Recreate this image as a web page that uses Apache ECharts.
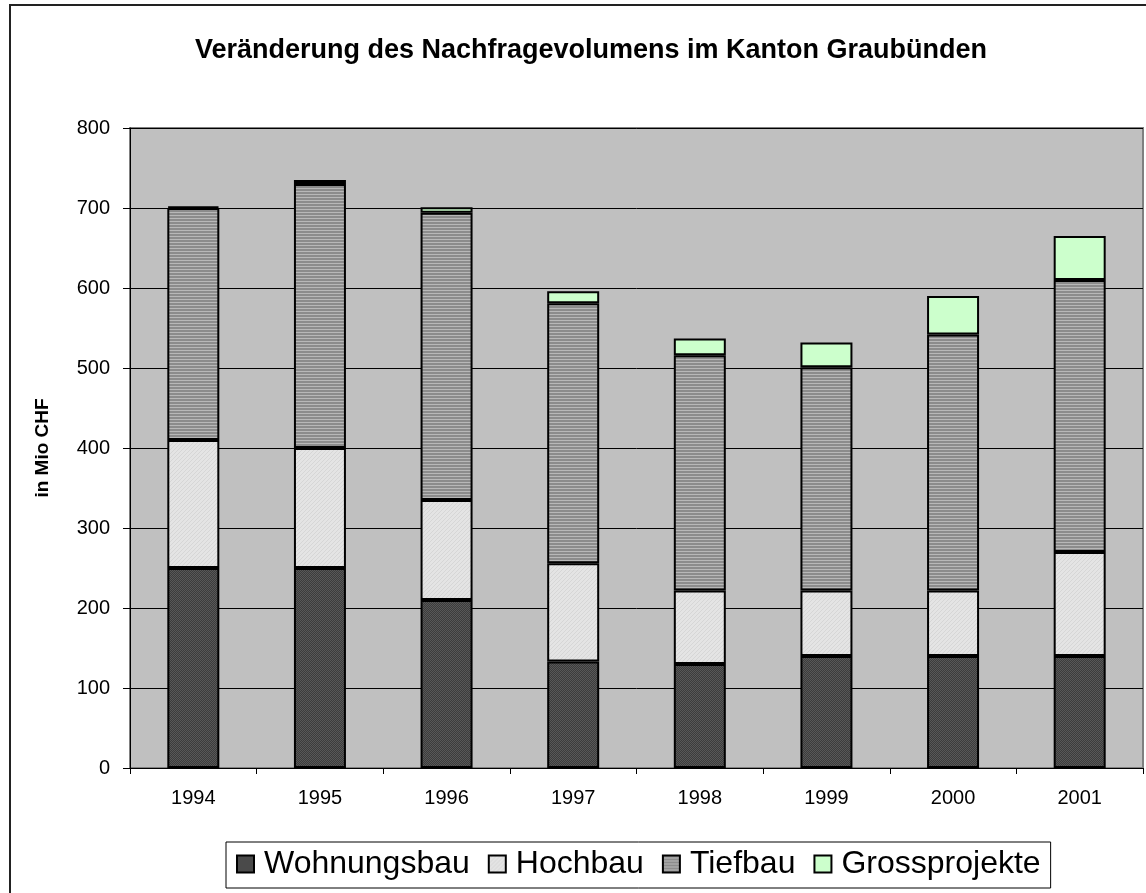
<!DOCTYPE html>
<html>
<head>
<meta charset="utf-8">
<script src="https://cdn.jsdelivr.net/npm/echarts@6/dist/echarts.min.js"></script>
<style>
  html, body { margin: 0; padding: 0; background: #fff; }
  #container { width: 1146px; height: 893px; }
</style>
</head>
<body>
<div id="container"></div>
<script>
var years = ['1994', '1995', '1996', '1997', '1998', '1999', '2000', '2001'];
var wohnungsbau = [250, 250, 210, 133, 130, 140, 140, 140];
var hochbau = [160, 150, 125, 123, 92, 82, 82, 130];
var tiefbau = [290, 330, 359, 325, 294, 279, 320, 340];
var grossprojekte = [2, 5, 7, 15, 21, 31, 48, 55];

function pattern(w, h, draw) {
    var c = document.createElement('canvas');
    c.width = w;
    c.height = h;
    draw(c.getContext('2d'));
    return { image: c, repeat: 'repeat' };
}

// hatch fills like the old office chart
var wohnFill = pattern(2, 2, function (ctx) {
    ctx.fillStyle = '#3c3c3c';
    ctx.fillRect(0, 0, 2, 2);
    ctx.fillStyle = '#585858';
    ctx.fillRect(0, 0, 1, 1);
    ctx.fillRect(1, 1, 1, 1);
});
var hochFill = pattern(4, 4, function (ctx) {
    ctx.fillStyle = '#e4e4e4';
    ctx.fillRect(0, 0, 4, 4);
    ctx.fillStyle = '#d6d6d6';
    for (var i = 0; i < 4; i++) ctx.fillRect(3 - i, i, 1, 1);
});
var tiefFill = pattern(3, 3, function (ctx) {
    ctx.fillStyle = '#8c8c8c';
    ctx.fillRect(0, 0, 3, 3);
    ctx.fillStyle = '#b8b8b8';
    ctx.fillRect(0, 2, 3, 1);
});

var dom = document.getElementById('container');
var myChart = echarts.init(dom, null, { renderer: 'canvas' });

function bar(name, data, fill) {
    return {
        name: name,
        type: 'bar',
        stack: 'total',
        barWidth: 52,
        data: data,
        itemStyle: { color: fill, borderColor: '#000', borderWidth: 2 },
        emphasis: { disabled: true }
    };
}

var option = {
    animation: false,
    backgroundColor: '#fff',
    textStyle: { fontFamily: 'Liberation Sans, Arial, sans-serif' },
    graphic: [{
        type: 'rect',
        shape: { x: 10, y: 5, width: 1160, height: 910 },
        style: { fill: 'none', stroke: '#222', lineWidth: 2 },
        z: -1
    }],
    title: {
        text: 'Veränderung des Nachfragevolumens im Kanton Graubünden',
        left: 586,
        textAlign: 'center',
        top: 32,
        textStyle: { fontSize: 27, fontWeight: 'bold', color: '#000' }
    },
    legend: {
        left: 226,
        top: 842,
        itemWidth: 17,
        itemHeight: 17,
        itemGap: 18,
        padding: [6, 10, 8, 10],
        borderColor: '#000',
        borderWidth: 1,
        backgroundColor: '#fff',
        icon: 'rect',
        itemStyle: { borderColor: '#000', borderWidth: 2 },
        textStyle: { fontSize: 32, color: '#000', padding: [0, 0, 0, 5] },
        data: ['Wohnungsbau', 'Hochbau', 'Tiefbau', 'Grossprojekte']
    },
    grid: {
        left: 130,
        top: 128,
        right: 3,
        bottom: 125,
        show: true,
        backgroundColor: '#c0c0c0',
        borderColor: '#808080',
        borderWidth: 2
    },
    xAxis: {
        type: 'category',
        data: years,
        axisLine: { lineStyle: { color: '#000', width: 1 } },
        axisTick: { show: true, length: 6, lineStyle: { color: '#000' } },
        axisLabel: { fontSize: 20, color: '#000', margin: 20 }
    },
    yAxis: {
        type: 'value',
        min: 0,
        max: 800,
        interval: 100,
        name: 'in Mio CHF',
        nameLocation: 'middle',
        nameRotate: 90,
        nameGap: 78,
        nameTextStyle: { fontSize: 19, fontWeight: 'bold', color: '#000' },
        axisLine: { show: true, lineStyle: { color: '#000', width: 1 } },
        axisTick: { show: true, length: 7, lineStyle: { color: '#000' } },
        axisLabel: { fontSize: 20, color: '#000', margin: 20 },
        splitLine: { lineStyle: { color: '#000', width: 1 } }
    },
    series: [
        bar('Wohnungsbau', wohnungsbau, wohnFill),
        bar('Hochbau', hochbau, hochFill),
        bar('Tiefbau', tiefbau, tiefFill),
        bar('Grossprojekte', grossprojekte, '#ccffcc')
    ]
};
myChart.setOption(option);
</script>
</body>
</html>
